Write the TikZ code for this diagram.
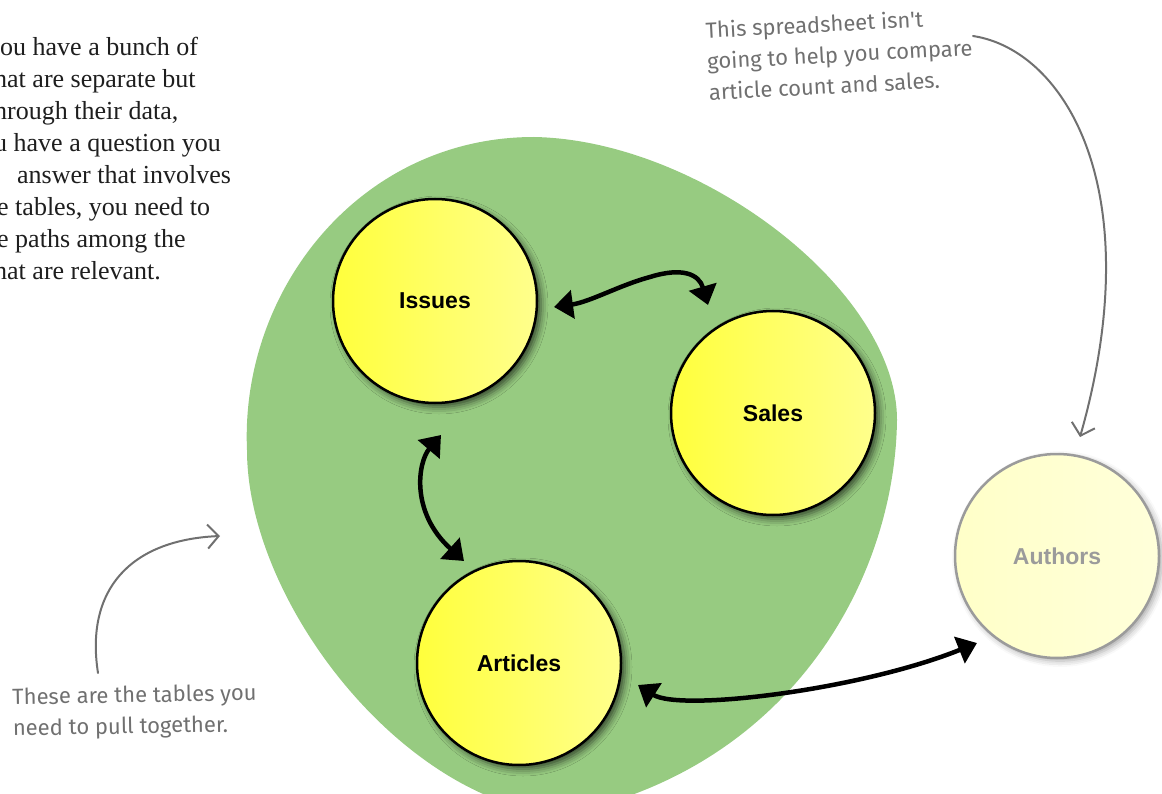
\documentclass[tikz,border=0pt]{standalone}
\usepackage{fontspec}
\setmainfont{Liberation Serif}
\newfontfamily\labelfont{Liberation Sans}
\newfontfamily\notefont{Fira Sans}
\usetikzlibrary{arrows.meta,calc,shadows.blur}

\definecolor{blobgreen}{RGB}{151,203,129}
\definecolor{tabyellowL}{RGB}{255,255,60}
\definecolor{tabyellowR}{RGB}{255,255,140}
\definecolor{paleL}{RGB}{255,255,200}
\definecolor{paleR}{RGB}{255,255,218}
\definecolor{notegray}{RGB}{112,112,112}
\definecolor{ringgray}{RGB}{155,155,155}
\definecolor{bodyink}{RGB}{30,30,30}

\begin{document}
\begin{tikzpicture}[x=1pt,y=-1pt,
  tablenode/.style={circle, minimum size=204pt, inner sep=0pt, draw=black,
    line width=2.5pt, left color=tabyellowL, right color=tabyellowR,
    font=\labelfont\bfseries\fontsize{23}{27}\selectfont,
    blur shadow={shadow xshift=4pt, shadow yshift=-4pt,
      shadow blur radius=7pt, shadow opacity=65}},
  farnode/.style={tablenode, draw=ringgray, text=ringgray,
    left color=paleL, right color=paleR,
    blur shadow={shadow xshift=3pt, shadow yshift=-3pt,
      shadow blur radius=6pt, shadow opacity=18}},
  link/.style={line width=4.5pt, black,
    {Triangle[length=19pt,width=28pt]}-{Triangle[length=19pt,width=28pt]}},
  notearrow/.style={line width=2pt, notegray, line cap=round,
    -{Straight Barb[length=11pt,width=24pt,line width=2pt]}},
  bodytext/.style={anchor=base west, inner sep=0pt, text=bodyink,
    font=\fontsize{26}{32}\selectfont},
  notetext/.style={align=left, inner sep=0pt, text=notegray,
    font=\notefont\fontsize{22}{31}\selectfont}]

\useasboundingbox (0,0) rectangle (1162,794);
\clip (0,0) rectangle (1162,794);

% running text, cut at the left page margin
\node[bodytext] (t1) at (0,56)   {ou have a bunch of};
\node[bodytext] (t2) at (-6,88)  {hat are separate but};
\node[bodytext] (t3) at (-6,120) {hrough their data,};
\node[bodytext] (t4) at (-6,152) {u have a question you};
\node[bodytext] (t5) at (17,184) {answer that involves};
\node[bodytext] (t6) at (-3,216) {e tables, you need to};
\node[bodytext] (t7) at (-3,248) {e paths among the};
\node[bodytext] (t8) at (-6,280) {hat are relevant.};

% the green region holding the related tables
\fill[blobgreen] (534,137)
  .. controls (700,140) and (897,290) .. (897,420)
  .. controls (895,580) and (790,770) .. (560,815)
  .. controls (400,800) and (247,600) .. (247,450)
  .. controls (240,290) and (360,137) .. cycle;

% tables
\node[tablenode] (Issues)   at (435,301) {Issues};
\node[tablenode] (Sales)    at (773,413) {Sales};
\node[tablenode] (Articles) at (519,663) {Articles};
\node[farnode]   (Authors)  at (1057,556) {\raisebox{-6pt}{Authors}};

% relationships
\draw[link] ($(Issues)+(119,6)$) .. controls (590,302) and (620,285) ..
  (650,277) .. controls (682,267) and (699,274) .. ($(Sales)+(-65,-108)$);
\draw[link] ($(Issues)+(6,134)$) .. controls (418,462) and (410,512) ..
  ($(Articles)+(-55,-102)$);
\draw[link] ($(Articles)+(119,22)$) .. controls (680,712) and (860,690) ..
  ($(Authors)+(-80,87)$);

% annotations
\node[notetext, anchor=north west, rotate=3] (noteTop) at (705,21)
  {This spreadsheet isn't\\going to help you compare\\article count and sales.};
\node[notetext, anchor=north west, rotate=1] (noteLeft) at (12,688)
  {These are the tables you\\need to pull together.};

\coordinate (topStart) at (973,36);
\coordinate (leftStart) at (98,673);
\coordinate (leftEnd) at (220,536);
\draw[notearrow] (topStart) .. controls (1065,50) and (1150,190) ..
  ($(Authors)+(23,-119)$);
\draw[notearrow] (leftStart) .. controls (85,590) and (130,540) .. (leftEnd);
\end{tikzpicture}
\end{document}
